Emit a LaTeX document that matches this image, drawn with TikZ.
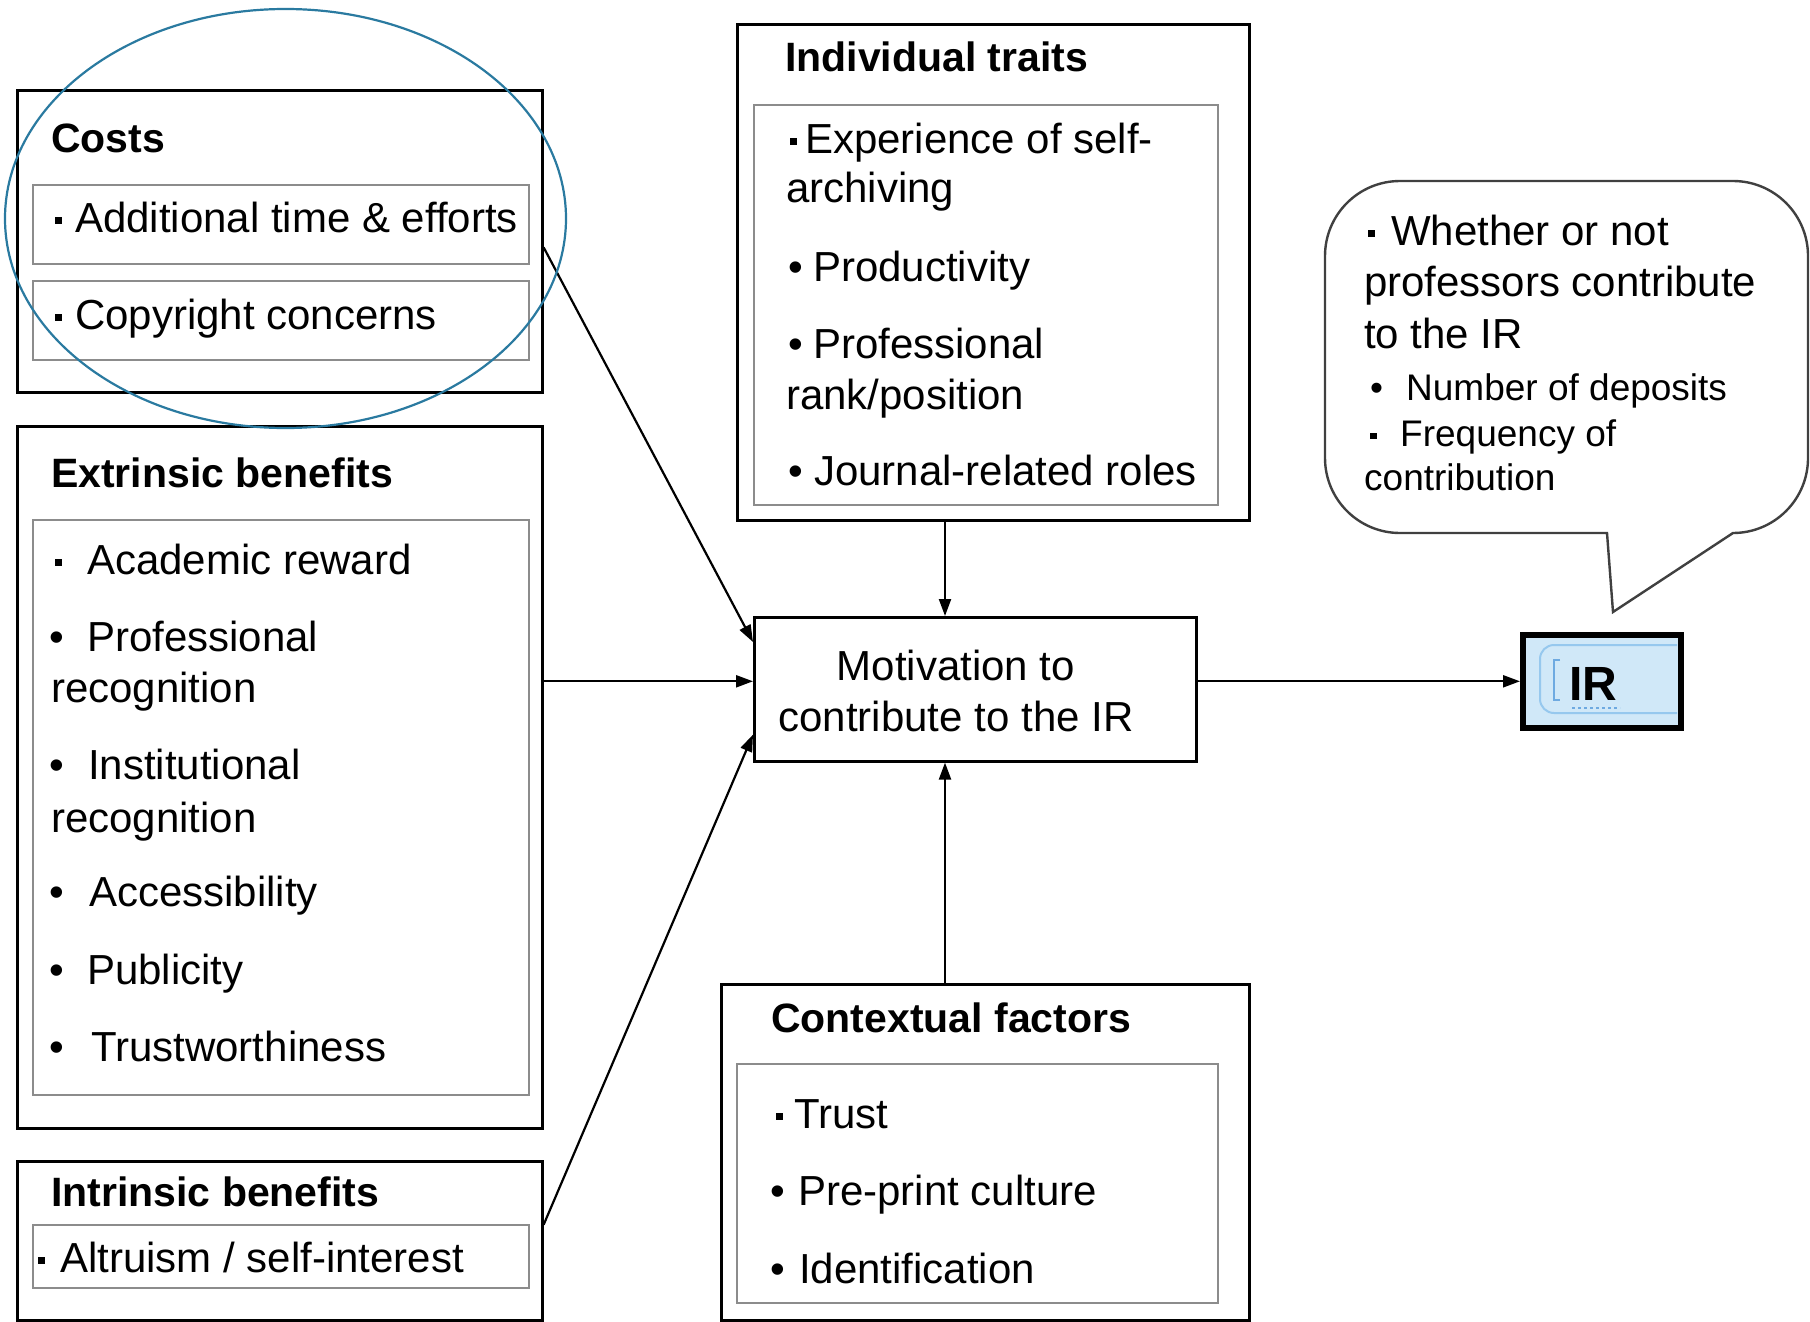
\documentclass[tikz,border=0pt]{standalone}
\usepackage{fontspec}
\setmainfont{Liberation Sans}
\usetikzlibrary{arrows.meta,calc}
\newcommand\sqbul[1]{\makebox[#1][l]{\raisebox{0.19em}{\rule{0.17em}{0.17em}}}}
\newcommand\rdbul[1]{\makebox[#1][l]{•}}
\definecolor{ringblue}{RGB}{42,122,160}
\definecolor{irfill}{RGB}{208,232,248}
\definecolor{irline}{RGB}{150,200,238}
\definecolor{irdark}{RGB}{110,170,225}
\begin{document}
\begin{tikzpicture}[x=1pt,y=-1pt,
 outer/.style={draw=black,line width=2.6pt,inner sep=0pt,anchor=north west},
 inbox/.style={draw=black!45,line width=2pt,inner sep=0pt,anchor=north west},
 txt/.style={anchor=base west,inner sep=0pt,font=\fontsize{42}{50}\selectfont},
 stxt/.style={anchor=base west,inner sep=0pt,font=\fontsize{37}{45}\selectfont},
 head/.style={anchor=base west,inner sep=0pt,font=\fontsize{41}{50}\selectfont\bfseries},
 arr/.style={line width=2.2pt,-{Triangle[length=17pt,width=12pt]}},
 bubble/.style={draw=black!75,line width=2.4pt,fill=white},
]
\useasboundingbox[fill=white] (0,0) rectangle (1810,1322);

% ---------- Costs ----------
\node[outer,minimum width=525pt,minimum height=302pt] (costs) at (16,89) {};
\node[inbox,minimum width=496pt,minimum height=79pt] (costsA) at (32,184) {};
\node[inbox,minimum width=496pt,minimum height=79pt] (costsB) at (32,280) {};
\node[head] (costsT) at (51,152) {Costs};
\node[txt] (c1) at (55,232) {\sqbul{20pt}Additional time \& efforts};
\node[txt] (c2) at (55,329) {\sqbul{20pt}Copyright concerns};

% ---------- Extrinsic ----------
\node[outer,minimum width=525pt,minimum height=702pt] (ext) at (16,425) {};
\node[inbox,minimum width=496pt,minimum height=575pt] (extI) at (32,519) {};
\node[head] (extT) at (51,487) {Extrinsic benefits};
\node[txt] (e1) at (55,574) {\sqbul{32pt}Academic reward};
\node[txt] (e2) at (49,651) {\rdbul{38pt}Professional};
\node[txt] (e2b) at (51,702) {recognition};
\node[txt] (e3) at (49,779) {\rdbul{39pt}Institutional};
\node[txt] (e3b) at (51,832) {recognition};
\node[txt] (e4) at (49,906) {\rdbul{40pt}Accessibility};
\node[txt] (e5) at (49,984) {\rdbul{38pt}Publicity};
\node[txt] (e6) at (49,1061) {\rdbul{42pt}Trustworthiness};

% ---------- Intrinsic ----------
\node[outer,minimum width=525pt,minimum height=159pt] (intr) at (16,1160) {};
\node[inbox,minimum width=496pt,minimum height=63pt] (intrI) at (32,1224) {};
\node[head] (intrT) at (51,1206) {Intrinsic benefits};
\node[txt] (i1) at (38,1272) {\sqbul{22pt}Altruism / self-interest};

% ---------- Individual traits ----------
\node[outer,minimum width=512pt,minimum height=496pt] (ind) at (736,23) {};
\node[inbox,minimum width=464pt,minimum height=400pt] (indI) at (753,104) {};
\node[head] (indT) at (785,72) {Individual traits};
\node[txt] (n1) at (790,153) {\sqbul{15pt}Experience of self-};
\node[txt] (n1b) at (786,202) {archiving};
\node[txt] (n2) at (788,281) {\rdbul{25pt}Productivity};
\node[txt] (n3) at (788,358) {\rdbul{25pt}Professional};
\node[txt] (n3b) at (786,409) {rank/position};
\node[txt] (n4) at (788,485) {\rdbul{26pt}Journal-related roles};

% ---------- Motivation ----------
\node[outer,minimum width=442pt,minimum height=144pt] (mot) at (753,616) {};
\node[align=center,inner sep=0pt,font=\fontsize{42}{51}\selectfont] (motT) at (956,691) {Motivation to\\contribute to the IR};

% ---------- Contextual ----------
\node[outer,minimum width=528pt,minimum height=336pt] (ctx) at (720,983) {};
\node[inbox,minimum width=481pt,minimum height=239pt] (ctxI) at (736,1063) {};
\node[head] (ctxT) at (771,1032) {Contextual factors};
\node[txt] (x1) at (776,1128) {\sqbul{18pt}Trust};
\node[txt] (x2) at (770,1205) {\rdbul{28pt}Pre-print culture};
\node[txt] (x3) at (770,1283) {\rdbul{29pt}Identification};

% ---------- Speech bubble ----------
\draw[bubble] (1607,533) -- (1400,533) arc[start angle=270,end angle=180,radius=75pt]
  -- (1325,256) arc[start angle=180,end angle=90,radius=75pt]
  -- (1733,181) arc[start angle=90,end angle=0,radius=75pt]
  -- (1808,458) arc[start angle=0,end angle=-90,radius=75pt]
  -- (1613,612) -- cycle;
\node[txt] (b1) at (1368,245) {\sqbul{23pt}Whether or not};
\node[txt] (b2) at (1364,296) {professors contribute};
\node[txt] (b3) at (1364,348) {to the IR};
\node[stxt] (b4) at (1370,400) {\rdbul{36pt}Number of deposits};
\node[stxt] (b5) at (1370,446) {\sqbul{30pt}Frequency of};
\node[stxt] (b6) at (1364,490) {contribution};

% ---------- IR ----------
\node[draw=black,line width=6pt,fill=irfill,inner sep=0pt,anchor=north west,
      minimum width=158pt,minimum height=93pt] (ir) at (1520,632) {};
\draw[irline,line width=2pt,rounded corners=14pt] (1677,645) -- (1540,645) -- (1540,713) -- (1677,713);
\draw[irdark,line width=2pt] (1560,660) -- (1554,660) -- (1554,700) -- (1560,700);
\draw[irdark,line width=1.5pt,dashed] (1572,708) -- (1620,708);
\node[inner sep=0pt,font=\fontsize{48}{48}\selectfont\bfseries] (irT) at (1593,684) {IR};

% ---------- Connectors ----------
\coordinate (ax) at (945,0);
\draw[arr] ($(costs.east)+(0,6)$) -- ($(mot.north west)+(0,26)$);
\draw[arr] ($(ext.east |- mot.west)+(0,-8)$) -- ($(mot.west)+(0,-8)$);
\draw[arr] ($(intr.east)+(0,-16)$) -- ($(mot.south west)+(0,-28)$);
\draw[arr] (ind.south -| ax) -- (mot.north -| ax);
\draw[arr] (ctx.north -| ax) -- (mot.south -| ax);
\draw[arr] ($(mot.east)+(0,-8)$) -- ($(ir.west |- mot.east)+(0,-8)$);

% ---------- Highlight ellipse ----------
\draw[ringblue,line width=2.2pt] (285.5,218.5) ellipse [x radius=280.5pt,y radius=209.5pt];
\end{tikzpicture}
\end{document}
